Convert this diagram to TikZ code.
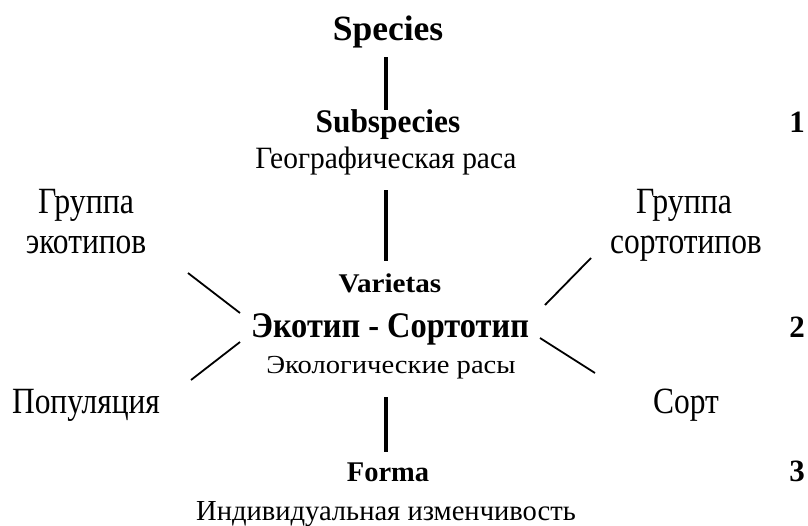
\documentclass[tikz,border=0pt]{standalone}
\usepackage{fontspec}
\setmainfont{Liberation Serif}
\newcommand\tx[3]{\scalebox{#2}[1]{\fontsize{#1}{#1}\selectfont #3}}
\newcommand\bx[3]{\scalebox{#2}[1]{\fontsize{#1}{#1}\selectfont\bfseries #3}}
\tikzset{
  lbl/.style={anchor=base, inner sep=0pt, outer sep=0pt, text=black},
  vline/.style={draw=black, line width=3.2pt},
  dline/.style={draw=black, line width=1.8pt}
}
\begin{document}
\begin{tikzpicture}[x=1pt,y=-1pt]
\path[use as bounding box, fill=white] (0,0) rectangle (808,525);
% centre column
\node[lbl] (species)    at (388,40)  {\bx{35.5}{1}{Species}};
\node[lbl] (subspecies) at (388,132) {\bx{33}{0.95}{Subspecies}};
\node[lbl] (geo)        at (386,168) {\tx{31}{0.95}{Географическая раса}};
\node[lbl] (varietas)   at (390,292) {\bx{27}{1.08}{Varietas}};
\node[lbl] (main)       at (390,337) {\bx{36}{0.9}{Экотип - Сортотип}};
\node[lbl] (eco)        at (391,373) {\tx{26}{1.1}{Экологические расы}};
\node[lbl] (forma)      at (388,481) {\bx{28.5}{1}{Forma}};
\node[lbl] (indiv)      at (386,520) {\tx{29}{0.985}{Индивидуальная изменчивость}};
% side labels
\node[lbl] (gre1) at (86,213)  {\tx{37}{0.86}{Группа}};
\node[lbl] (gre2) at (86,253)  {\tx{37}{0.85}{экотипов}};
\node[lbl] (grs1) at (684,213) {\tx{37}{0.86}{Группа}};
\node[lbl] (grs2) at (686,253) {\tx{37}{0.85}{сортотипов}};
\node[lbl] (pop)  at (86,413)  {\tx{37}{0.85}{Популяция}};
\node[lbl] (sort) at (686,413) {\tx{37}{0.85}{Сорт}};
% level numbers
\node[lbl] (n1) at (797,132) {\bx{31}{1}{1}};
\node[lbl] (n2) at (797,337) {\bx{31}{1}{2}};
\node[lbl] (n3) at (797,481) {\bx{31}{1}{3}};
% vertical connectors
\draw[vline] ([shift={(-2pt,-17pt)}]species.base) -- ([shift={(-2pt,22pt)}]subspecies.base);
\draw[vline] ([shift={(0pt,-22pt)}]geo.base) -- ([shift={(-4pt,31pt)}]varietas.base);
\draw[vline] ([shift={(-5pt,-24pt)}]eco.base) -- ([shift={(-2pt,29pt)}]forma.base);
% diagonal connectors
\draw[dline] ([shift={(102pt,-20pt)}]gre2.base) -- ([shift={(-150pt,24pt)}]main.base);
\draw[dline] ([shift={(105pt,33pt)}]pop.base)   -- ([shift={(-150pt,-5pt)}]main.base);
\draw[dline] ([shift={(-95pt,-5pt)}]grs2.base)  -- ([shift={(155pt,32pt)}]main.base);
\draw[dline] ([shift={(-91pt,40pt)}]sort.base)  -- ([shift={(150pt,-1pt)}]main.base);
\end{tikzpicture}
\end{document}
